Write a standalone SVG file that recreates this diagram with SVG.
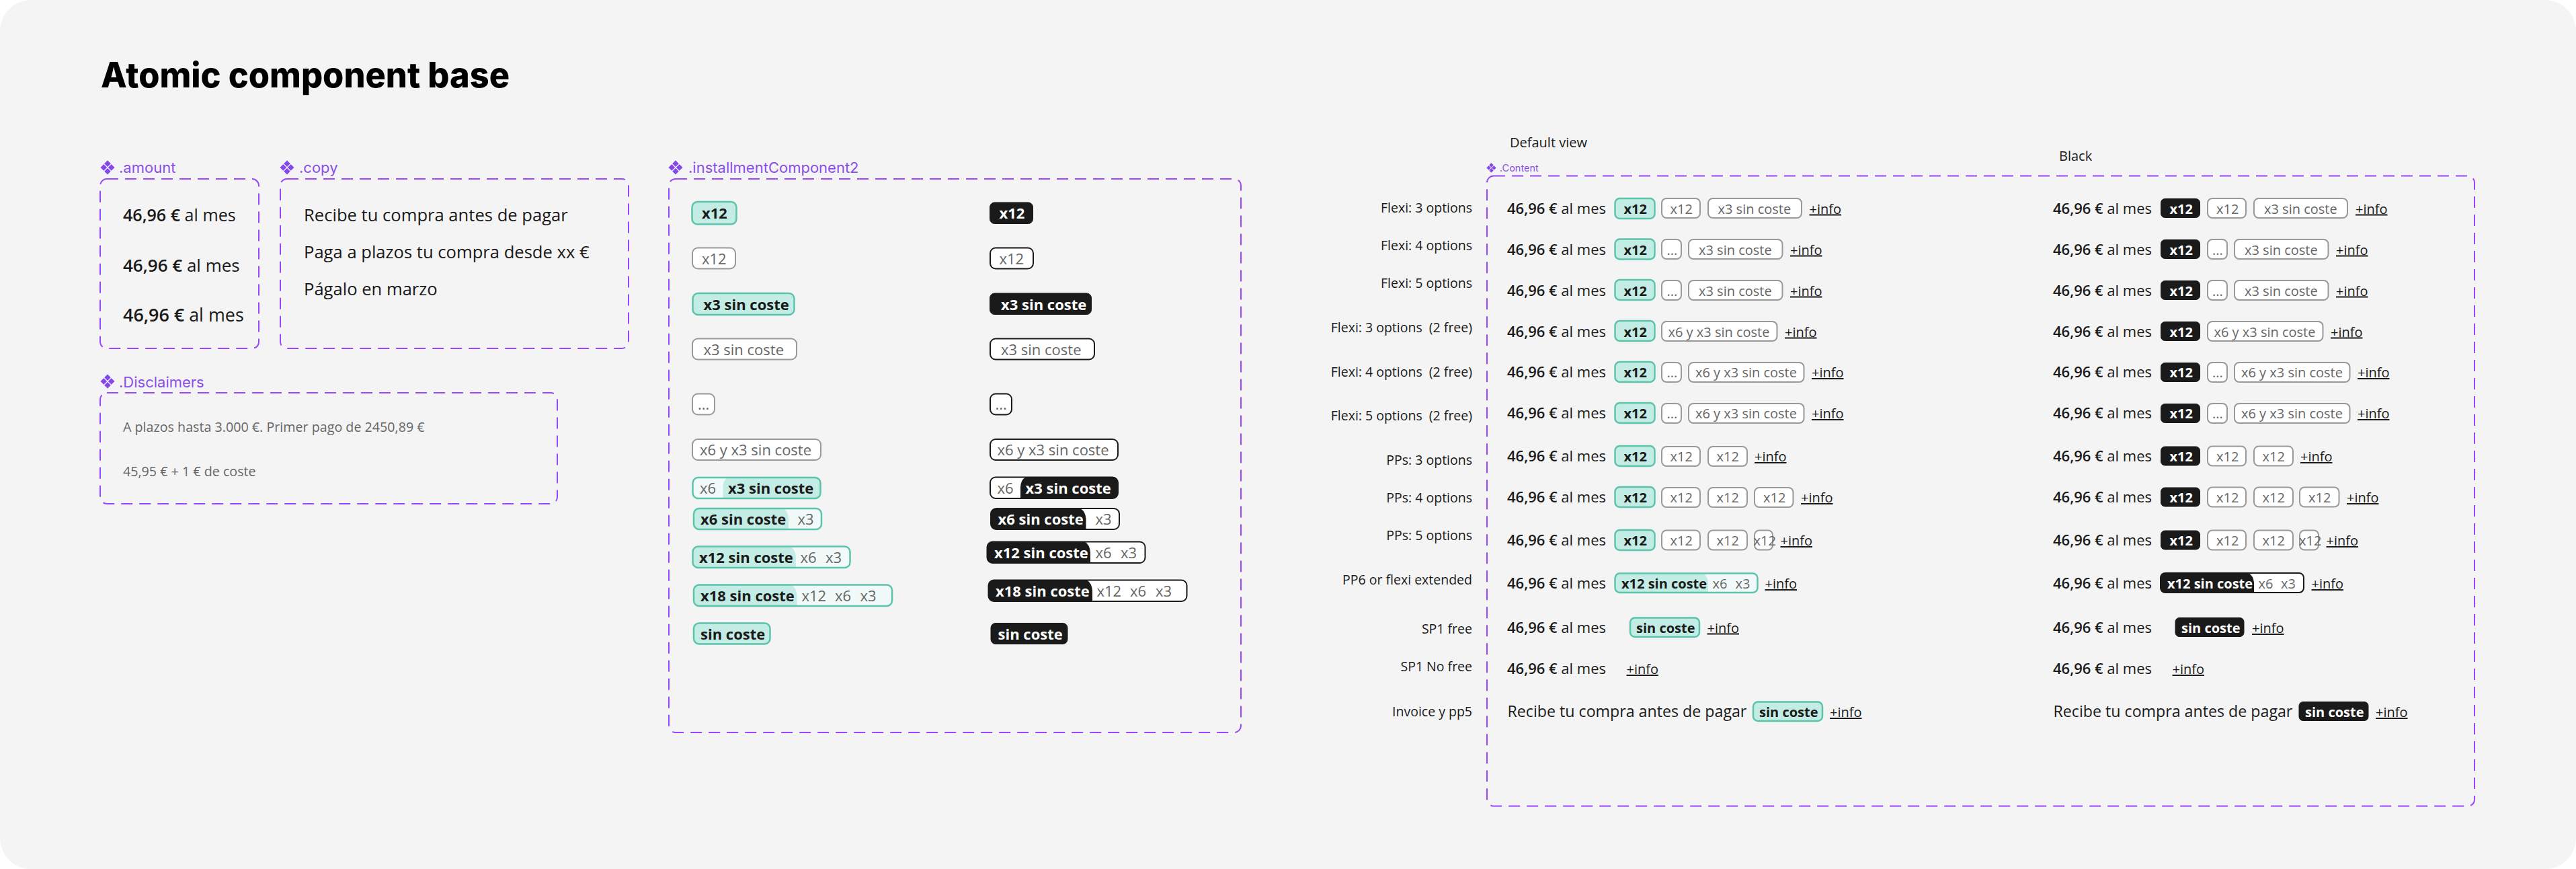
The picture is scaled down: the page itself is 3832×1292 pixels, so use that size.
<svg xmlns="http://www.w3.org/2000/svg" width="3832" height="1292" viewBox="0 0 3832 1292">
<style>
text{font-family:"Open Sans","Noto Sans",sans-serif;fill:#1a1a1a}
.title{font-family:Inter,"Liberation Sans",sans-serif;font-weight:800;font-size:52px;fill:#000}
.lbl{font-family:Inter,"Liberation Sans",sans-serif;font-size:22px;fill:#8a4fe8}
.lbls{font-family:Inter,"Liberation Sans",sans-serif;font-size:14.5px;fill:#8a4fe8}
.box{fill:none;stroke:#9747ff;stroke-width:2;stroke-dasharray:17 10}
.icon{fill:#8448ea}
.b{font-weight:700}
.a{font-size:22px}
.s{font-weight:600}
.c20{font-size:20px}
.c22{font-size:22px}
.g{fill:#666}
.w{fill:#fff}
.cap{font-size:19.500px;font-weight:500;text-anchor:end;white-space:pre}
.head{font-size:20px;font-weight:500}
.info{font-size:20px;text-decoration:underline}
.copy{font-size:25.600px;font-weight:500}
.inv{font-size:23.200px;font-weight:500}
.dis{font-size:19.700px;fill:#666}
.mint{fill:#c2ece4;stroke:#5cc4ab;stroke-width:2.5}
.blk{fill:#1a1a1a;stroke:#1a1a1a;stroke-width:1}
.out{fill:#fff;stroke:#999;stroke-width:2}
.outk{fill:#fff;stroke:#1a1a1a;stroke-width:2}
.ml{fill:#f1faf8}
.mf{fill:#c2ece4}
.kf{fill:#1a1a1a}
.ms{fill:none;stroke:#5cc4ab;stroke-width:2.500}
.ks{fill:none;stroke:#1a1a1a;stroke-width:2}
</style>
<defs>
<path id="dia" d="M0-10.500 4.800-5.700 0-.9-4.800-5.700ZM0 .9 4.800 5.700 0 10.500-4.800 5.700ZM-5.700-4.800-.9 0-5.700 4.800-10.500 0ZM5.700-4.800 10.500 0 5.700 4.800 .9 0Z"/>
</defs>
<rect id="frame" width="3832" height="1292" rx="46" fill="#f4f4f4"/>
<text id="title" class="title" x="150" y="130" textLength="608" lengthAdjust="spacingAndGlyphs">Atomic component base</text>

<g id="amount">
<use href="#dia" class="icon" x="160" y="249"/>
<text class="lbl" x="177" y="257">.amount</text>
<rect class="box" x="149" y="266" width="236" height="252" rx="10"/>
<text x="183" y="329" font-size="25.100"><tspan class="s">46,96 €</tspan> al mes</text>
<text x="183" y="404" font-size="26"><tspan class="s">46,96 €</tspan> al mes</text>
<text x="183" y="478" font-size="26.900"><tspan class="s">46,96 €</tspan> al mes</text>
</g>

<g id="copy">
<use href="#dia" class="icon" x="427" y="249"/>
<text class="lbl" x="445" y="257">.copy</text>
<rect class="box" x="417" y="266" width="518" height="252" rx="10"/>
<text class="copy" x="452" y="329">Recibe tu compra antes de pagar</text>
<text class="copy" x="452" y="384">Paga a plazos tu compra desde xx €</text>
<text class="copy" x="452" y="439">Págalo en marzo</text>
</g>

<g id="disclaimers">
<use href="#dia" class="icon" x="160" y="567"/>
<text class="lbl" x="177" y="576">.Disclaimers</text>
<rect class="box" x="149" y="584" width="680" height="165" rx="10"/>
<text class="dis" x="183" y="642">A plazos hasta 3.000 €. Primer pago de 2450,89 €</text>
<text class="dis" x="183" y="708">45,95 € + 1 € de coste</text>
</g>

<g id="installmentComponent2">
<use href="#dia" class="icon" x="1005" y="249"/>
<text class="lbl" x="1024" y="257">.installmentComponent2</text>
<rect class="box" x="995" y="266" width="851" height="823" rx="10"/>

<g id="ic-left">
<rect class="mint" x="1029.500" y="300" width="66" height="33.500" rx="8"/><text class="c22 b" x="1044" y="325">x12</text>
<rect class="out" x="1030" y="368.500" width="64" height="31" rx="8"/><text class="c22 g" x="1044" y="393">x12</text>
<rect class="mint" x="1030.500" y="436" width="151" height="32" rx="8"/><text class="c22 b" x="1046.500" y="461">x3 sin coste</text>
<rect class="out" x="1030" y="503.500" width="155" height="31" rx="8"/><text class="c22 g" x="1046.500" y="528">x3 sin coste</text>
<rect class="out" x="1030" y="585.500" width="33" height="31" rx="8"/><text class="c22 g" x="1038" y="609">...</text>
<rect class="out" x="1030" y="653" width="191" height="31" rx="8"/><text class="c22 g" x="1041" y="677">x6 y x3 sin coste</text>

<rect class="ml" x="1030" y="709.500" width="190.500" height="31.500" rx="8"/>
<path class="mf" d="M1075.500 741V724Q1075.500 713 1084 709.500H1212Q1220.500 709.500 1220.500 718V733Q1220.500 741 1212 741Z"/>
<rect class="ms" x="1030.500" y="710" width="190" height="31" rx="8"/>
<text class="c22 g" x="1041" y="734">x6</text><text class="c22 b" x="1083" y="734">x3 sin coste</text>

<rect class="ml" x="1032" y="756" width="190" height="31" rx="8"/>
<path class="mf" d="M1173 787V771Q1172 760 1165 756H1040Q1032 756 1032 764V779Q1032 787 1040 787Z"/>
<rect class="ms" x="1032" y="756" width="190" height="31" rx="8"/>
<text class="c22 b" x="1042" y="780">x6 sin coste</text><text class="c22 g" x="1186.500" y="780">x3</text>

<rect class="ml" x="1030.500" y="812.500" width="234" height="31.500" rx="8"/>
<path class="mf" d="M1184 844V828Q1183 817 1176 812.500H1038.500Q1030.500 812.500 1030.500 820.500V836Q1030.500 844 1038.500 844Z"/>
<rect class="ms" x="1030.500" y="812.500" width="234" height="31.500" rx="8"/>
<text class="c22 b" x="1040" y="837">x12 sin coste</text><text class="c22 g" x="1190.500" y="837">x6</text><text class="c22 g" x="1228" y="837">x3</text>

<rect class="ml" x="1032" y="869.500" width="295" height="31.500" rx="8"/>
<path class="mf" d="M1185.500 901V885Q1184.500 874 1177.500 869.500H1040Q1032 869.500 1032 877.500V893Q1032 901 1040 901Z"/>
<rect class="ms" x="1032" y="869.500" width="295" height="31.500" rx="8"/>
<text class="c22 b" x="1042" y="894">x18 sin coste</text><text class="c22 g" x="1192.500" y="894">x12</text><text class="c22 g" x="1242" y="894">x6</text><text class="c22 g" x="1279.500" y="894">x3</text>

<rect class="mint" x="1032" y="926.500" width="113.500" height="31" rx="8"/><text class="c22 b" x="1042" y="951">sin coste</text>
</g>

<g id="ic-right">
<rect class="blk" x="1472.500" y="301" width="64" height="31.500" rx="7"/><text class="c22 b w" x="1486.500" y="325">x12</text>
<rect class="outk" x="1473" y="368.500" width="64" height="31" rx="8"/><text class="c22 g" x="1486.500" y="393">x12</text>
<rect class="blk" x="1472.500" y="436" width="151" height="31.500" rx="7"/><text class="c22 b w" x="1489" y="461">x3 sin coste</text>
<rect class="outk" x="1473" y="503.500" width="155" height="31" rx="8"/><text class="c22 g" x="1489" y="528">x3 sin coste</text>
<rect class="outk" x="1473" y="585.500" width="32" height="31" rx="8"/><text class="c22 g" x="1480.500" y="609">...</text>
<rect class="outk" x="1473" y="653" width="190" height="31" rx="8"/><text class="c22 g" x="1483.500" y="677">x6 y x3 sin coste</text>

<rect fill="#fff" x="1473" y="709.500" width="190" height="31.500" rx="8"/>
<path class="kf" d="M1518 741V724Q1518.500 713 1526 709.500H1655Q1663 709.500 1663 718V733Q1663 741 1655 741Z"/>
<rect class="ks" x="1473" y="709.500" width="190" height="31.500" rx="8"/>
<text class="c22 g" x="1483.500" y="734">x6</text><text class="c22 b w" x="1525.500" y="734">x3 sin coste</text>

<rect fill="#fff" x="1474" y="756" width="191" height="31" rx="8"/>
<path class="kf" d="M1615.500 787V771Q1614.500 760 1607 756H1482Q1474 756 1474 764V779Q1474 787 1482 787Z"/>
<rect class="ks" x="1474" y="756" width="191" height="31" rx="8"/>
<text class="c22 b w" x="1484.500" y="780">x6 sin coste</text><text class="c22 g" x="1629.500" y="780">x3</text>

<rect fill="#fff" x="1468.500" y="805.500" width="235" height="31.500" rx="8"/>
<path class="kf" d="M1622 837V821Q1621 810 1614 805.500H1476.500Q1468.500 805.500 1468.500 813.500V829Q1468.500 837 1476.500 837Z"/>
<rect class="ks" x="1468.500" y="805.500" width="235" height="31.500" rx="8"/>
<text class="c22 b w" x="1479" y="830">x12 sin coste</text><text class="c22 g" x="1629.500" y="830">x6</text><text class="c22 g" x="1667" y="830">x3</text>

<rect fill="#fff" x="1470.500" y="862.500" width="295" height="31.500" rx="8"/>
<path class="kf" d="M1625 894V878Q1624 867 1617 862.500H1478.500Q1470.500 862.500 1470.500 870.500V886Q1470.500 894 1478.500 894Z"/>
<rect class="ks" x="1470.500" y="862.500" width="295" height="31.500" rx="8"/>
<text class="c22 b w" x="1481" y="887">x18 sin coste</text><text class="c22 g" x="1631.500" y="887">x12</text><text class="c22 g" x="1681" y="887">x6</text><text class="c22 g" x="1719" y="887">x3</text>

<rect class="blk" x="1474" y="926.500" width="114" height="31" rx="7"/><text class="c22 b w" x="1484.500" y="951">sin coste</text>
</g>
</g>

<g id="captions">
<text class="head" x="2246" y="219">Default view</text>
<text class="head" x="3063" y="239">Black</text>
<text class="cap" x="2190" y="316">Flexi: 3 options</text>
<text class="cap" x="2190" y="372">Flexi: 4 options</text>
<text class="cap" x="2190" y="428">Flexi: 5 options</text>
<text class="cap" x="2190" y="494">Flexi: 3 options  (2 free)</text>
<text class="cap" x="2190" y="560">Flexi: 4 options  (2 free)</text>
<text class="cap" x="2190" y="625">Flexi: 5 options  (2 free)</text>
<text class="cap" x="2190" y="691">PPs: 3 options</text>
<text class="cap" x="2190" y="747">PPs: 4 options</text>
<text class="cap" x="2190" y="803">PPs: 5 options</text>
<text class="cap" x="2190" y="869">PP6 or flexi extended</text>
<text class="cap" x="2190" y="942">SP1 free</text>
<text class="cap" x="2190" y="998">SP1 No free</text>
<text class="cap" x="2190" y="1065">Invoice y pp5</text>
</g>

<g id="content">
<use href="#dia" transform="translate(2218.500 249.500) scale(.68)" class="icon"/>
<text class="lbls" x="2231" y="255">.Content</text>
<rect class="box" x="2212" y="261.500" width="1469" height="937" rx="10"/>

<g id="default-rows">
<g id="d1"><text class="a" x="2242" y="318"><tspan class="s">46,96 €</tspan> al mes</text><rect class="mint" x="2402.500" y="295" width="59" height="30" rx="7"/><text class="c20 b" x="2415.500" y="318">x12</text><rect class="out" x="2472" y="295" width="57" height="29" rx="7"/><text class="c20 g" x="2484.500" y="318">x12</text><rect class="out" x="2541" y="295" width="139" height="29" rx="7"/><text class="c20 g" x="2555.500" y="318">x3 sin coste</text><text class="info" x="2691.500" y="317.500">+info</text></g>
<g id="d2"><text class="a" x="2242" y="379"><tspan class="s">46,96 €</tspan> al mes</text><rect class="mint" x="2402.500" y="355.500" width="59" height="30" rx="7"/><text class="c20 b" x="2415.500" y="378.500">x12</text><rect class="out" x="2472" y="356" width="29" height="29" rx="7"/><text class="c20 g" x="2479.500" y="378.500">...</text><rect class="out" x="2512" y="356" width="139.500" height="29" rx="7"/><text class="c20 g" x="2527" y="378.500">x3 sin coste</text><text class="info" x="2663" y="378.500">+info</text></g>
<g id="d3"><text class="a" x="2242" y="439.500"><tspan class="s">46,96 €</tspan> al mes</text><rect class="mint" x="2402.500" y="416" width="59" height="30" rx="7"/><text class="c20 b" x="2415.500" y="439.500">x12</text><rect class="out" x="2472" y="417" width="29" height="29" rx="7"/><text class="c20 g" x="2479.500" y="439.500">...</text><rect class="out" x="2512" y="417" width="139.500" height="29" rx="7"/><text class="c20 g" x="2527" y="439.500">x3 sin coste</text><text class="info" x="2663" y="439.500">+info</text></g>
<g id="d4"><text class="a" x="2242" y="500.500"><tspan class="s">46,96 €</tspan> al mes</text><rect class="mint" x="2402.500" y="477" width="59" height="30" rx="7"/><text class="c20 b" x="2415.500" y="500.500">x12</text><rect class="out" x="2472" y="478" width="171.500" height="29" rx="7"/><text class="c20 g" x="2481.500" y="500.500">x6 y x3 sin coste</text><text class="info" x="2655" y="500.500">+info</text></g>
<g id="d5"><text class="a" x="2242" y="561"><tspan class="s">46,96 €</tspan> al mes</text><rect class="mint" x="2402.500" y="538" width="59" height="30" rx="7"/><text class="c20 b" x="2415.500" y="561">x12</text><rect class="out" x="2472" y="539" width="29" height="29" rx="7"/><text class="c20 g" x="2479.500" y="561">...</text><rect class="out" x="2512" y="539" width="171.500" height="29" rx="7"/><text class="c20 g" x="2522" y="561">x6 y x3 sin coste</text><text class="info" x="2695" y="561">+info</text></g>
<g id="d6"><text class="a" x="2242" y="622"><tspan class="s">46,96 €</tspan> al mes</text><rect class="mint" x="2402.500" y="599" width="59" height="30" rx="7"/><text class="c20 b" x="2415.500" y="622">x12</text><rect class="out" x="2472" y="600" width="29" height="29" rx="7"/><text class="c20 g" x="2479.500" y="622">...</text><rect class="out" x="2512" y="600" width="171.500" height="29" rx="7"/><text class="c20 g" x="2522" y="622">x6 y x3 sin coste</text><text class="info" x="2695" y="622">+info</text></g>
<g id="d7"><text class="a" x="2242" y="686"><tspan class="s">46,96 €</tspan> al mes</text><rect class="mint" x="2402.500" y="663" width="59" height="30" rx="7"/><text class="c20 b" x="2415.500" y="686">x12</text><rect class="out" x="2472" y="664" width="57" height="29" rx="7"/><text class="c20 g" x="2484.500" y="686">x12</text><rect class="out" x="2541" y="664" width="58" height="29" rx="7"/><text class="c20 g" x="2553.500" y="686">x12</text><text class="info" x="2610" y="686">+info</text></g>
<g id="d8"><text class="a" x="2242" y="747"><tspan class="s">46,96 €</tspan> al mes</text><rect class="mint" x="2402.500" y="724" width="59" height="30" rx="7"/><text class="c20 b" x="2415.500" y="747">x12</text><rect class="out" x="2472" y="725" width="57" height="29" rx="7"/><text class="c20 g" x="2484.500" y="747">x12</text><rect class="out" x="2541" y="725" width="58" height="29" rx="7"/><text class="c20 g" x="2553.500" y="747">x12</text><rect class="out" x="2610" y="725" width="57.500" height="29" rx="7"/><text class="c20 g" x="2623" y="747">x12</text><text class="info" x="2679" y="747">+info</text></g>
<g id="d9"><text class="a" x="2242" y="811"><tspan class="s">46,96 €</tspan> al mes</text><rect class="mint" x="2402.500" y="788" width="59" height="30" rx="7"/><text class="c20 b" x="2415.500" y="811">x12</text><rect class="out" x="2472" y="788.500" width="57" height="29" rx="7"/><text class="c20 g" x="2484.500" y="811">x12</text><rect class="out" x="2541" y="788.500" width="58" height="29" rx="7"/><text class="c20 g" x="2553.500" y="811">x12</text><rect class="out" x="2610" y="788.500" width="27" height="29" rx="7"/><text class="c20 g" x="2608.500" y="811">x12</text><text class="info" x="2648.500" y="811">+info</text></g>
<g id="d10"><text class="a" x="2242" y="875"><tspan class="s">46,96 €</tspan> al mes</text><rect class="ml" x="2402.500" y="852.500" width="212" height="28.500" rx="7"/><path class="mf" d="M2541 881V866Q2540 856 2533 852.500H2409.500Q2402.500 852.500 2402.500 859.500V874Q2402.500 881 2409.500 881Z"/><rect class="ms" x="2402.500" y="852.500" width="212" height="28.500" rx="7"/><text class="c20 b" x="2412" y="875">x12 sin coste</text><text class="c20 g" x="2547.500" y="875">x6</text><text class="c20 g" x="2581.500" y="875">x3</text><text class="info" x="2625.500" y="875">+info</text></g>
<g id="d11"><text class="a" x="2242" y="940.500"><tspan class="s">46,96 €</tspan> al mes</text><rect class="mint" x="2425" y="918.500" width="103" height="28.500" rx="7"/><text class="c20 b" x="2434" y="940.500">sin coste</text><text class="info" x="2539.500" y="940.500">+info</text></g>
<g id="d12"><text class="a" x="2242" y="1002"><tspan class="s">46,96 €</tspan> al mes</text><text class="info" x="2419.500" y="1002">+info</text></g>
<g id="d13"><text class="inv" x="2242.500" y="1066">Recibe tu compra antes de pagar</text><rect class="mint" x="2608" y="1043.500" width="103" height="28.500" rx="7"/><text class="c20 b" x="2617" y="1066">sin coste</text><text class="info" x="2722" y="1066">+info</text></g>
</g>

<g id="black-rows">
<g id="k1"><text class="a" x="3054" y="318"><tspan class="s">46,96 €</tspan> al mes</text><rect class="blk" x="3214.500" y="295.500" width="58" height="28" rx="6"/><text class="c20 b w" x="3227.500" y="318">x12</text><rect class="out" x="3284" y="295" width="57" height="29" rx="7"/><text class="c20 g" x="3297" y="318">x12</text><rect class="out" x="3353" y="295" width="139" height="29" rx="7"/><text class="c20 g" x="3368" y="318">x3 sin coste</text><text class="info" x="3504" y="317.500">+info</text></g>
<g id="k2"><text class="a" x="3054" y="379"><tspan class="s">46,96 €</tspan> al mes</text><rect class="blk" x="3214.500" y="356.500" width="58" height="28" rx="6"/><text class="c20 b w" x="3227.500" y="378.500">x12</text><rect class="out" x="3284" y="356" width="29" height="29" rx="7"/><text class="c20 g" x="3291" y="378.500">...</text><rect class="out" x="3324" y="356" width="139.500" height="29" rx="7"/><text class="c20 g" x="3339" y="378.500">x3 sin coste</text><text class="info" x="3475" y="378.500">+info</text></g>
<g id="k3"><text class="a" x="3054" y="439.500"><tspan class="s">46,96 €</tspan> al mes</text><rect class="blk" x="3214.500" y="417.500" width="58" height="28" rx="6"/><text class="c20 b w" x="3227.500" y="439.500">x12</text><rect class="out" x="3284" y="417" width="29" height="29" rx="7"/><text class="c20 g" x="3291" y="439.500">...</text><rect class="out" x="3324" y="417" width="139.500" height="29" rx="7"/><text class="c20 g" x="3339" y="439.500">x3 sin coste</text><text class="info" x="3475" y="439.500">+info</text></g>
<g id="k4"><text class="a" x="3054" y="500.500"><tspan class="s">46,96 €</tspan> al mes</text><rect class="blk" x="3214.500" y="478.500" width="58" height="28" rx="6"/><text class="c20 b w" x="3227.500" y="500.500">x12</text><rect class="out" x="3284" y="478" width="171.500" height="29" rx="7"/><text class="c20 g" x="3293.500" y="500.500">x6 y x3 sin coste</text><text class="info" x="3467" y="500.500">+info</text></g>
<g id="k5"><text class="a" x="3054" y="561"><tspan class="s">46,96 €</tspan> al mes</text><rect class="blk" x="3214.500" y="539.500" width="58" height="28" rx="6"/><text class="c20 b w" x="3227.500" y="561">x12</text><rect class="out" x="3284" y="539" width="29" height="29" rx="7"/><text class="c20 g" x="3291" y="561">...</text><rect class="out" x="3324" y="539" width="171.500" height="29" rx="7"/><text class="c20 g" x="3334" y="561">x6 y x3 sin coste</text><text class="info" x="3507" y="561">+info</text></g>
<g id="k6"><text class="a" x="3054" y="622"><tspan class="s">46,96 €</tspan> al mes</text><rect class="blk" x="3214.500" y="600.500" width="58" height="28" rx="6"/><text class="c20 b w" x="3227.500" y="622">x12</text><rect class="out" x="3284" y="600" width="29" height="29" rx="7"/><text class="c20 g" x="3291" y="622">...</text><rect class="out" x="3324" y="600" width="171.500" height="29" rx="7"/><text class="c20 g" x="3334" y="622">x6 y x3 sin coste</text><text class="info" x="3507" y="622">+info</text></g>
<g id="k7"><text class="a" x="3054" y="686"><tspan class="s">46,96 €</tspan> al mes</text><rect class="blk" x="3214.500" y="664" width="58" height="28" rx="6"/><text class="c20 b w" x="3227.500" y="686">x12</text><rect class="out" x="3284" y="663.500" width="57" height="29" rx="7"/><text class="c20 g" x="3297" y="686">x12</text><rect class="out" x="3353" y="663.500" width="58" height="29" rx="7"/><text class="c20 g" x="3365.500" y="686">x12</text><text class="info" x="3422" y="686">+info</text></g>
<g id="k8"><text class="a" x="3054" y="747"><tspan class="s">46,96 €</tspan> al mes</text><rect class="blk" x="3214.500" y="725" width="58" height="28" rx="6"/><text class="c20 b w" x="3227.500" y="747">x12</text><rect class="out" x="3284" y="724.500" width="57" height="29" rx="7"/><text class="c20 g" x="3297" y="747">x12</text><rect class="out" x="3353" y="724.500" width="58" height="29" rx="7"/><text class="c20 g" x="3365.500" y="747">x12</text><rect class="out" x="3421" y="724.500" width="58.500" height="29" rx="7"/><text class="c20 g" x="3434" y="747">x12</text><text class="info" x="3491" y="747">+info</text></g>
<g id="k9"><text class="a" x="3054" y="811"><tspan class="s">46,96 €</tspan> al mes</text><rect class="blk" x="3214.500" y="789" width="58" height="28" rx="6"/><text class="c20 b w" x="3227.500" y="811">x12</text><rect class="out" x="3284" y="788.500" width="57" height="29" rx="7"/><text class="c20 g" x="3297" y="811">x12</text><rect class="out" x="3353" y="788.500" width="58" height="29" rx="7"/><text class="c20 g" x="3365.500" y="811">x12</text><rect class="out" x="3421" y="788.500" width="28" height="29" rx="7"/><text class="c20 g" x="3420" y="811">x12</text><text class="info" x="3460.500" y="811">+info</text></g>
<g id="k10"><text class="a" x="3054" y="875"><tspan class="s">46,96 €</tspan> al mes</text><rect fill="#fff" x="3214" y="852" width="213" height="29" rx="7"/><path class="kf" d="M3353 881V866Q3352 856 3345 852H3221Q3214 852 3214 859V874Q3214 881 3221 881Z"/><rect class="ks" x="3214" y="852" width="213" height="29" rx="7"/><text class="c20 b w" x="3224" y="875">x12 sin coste</text><text class="c20 g" x="3359.500" y="875">x6</text><text class="c20 g" x="3393" y="875">x3</text><text class="info" x="3438.500" y="875">+info</text></g>
<g id="k11"><text class="a" x="3054" y="941"><tspan class="s">46,96 €</tspan> al mes</text><rect class="blk" x="3236" y="918.500" width="102" height="28" rx="6"/><text class="c20 b w" x="3245" y="941">sin coste</text><text class="info" x="3350" y="941">+info</text></g>
<g id="k12"><text class="a" x="3054" y="1002"><tspan class="s">46,96 €</tspan> al mes</text><text class="info" x="3231.500" y="1002">+info</text></g>
<g id="k13"><text class="inv" x="3054.500" y="1066">Recibe tu compra antes de pagar</text><rect class="blk" x="3420" y="1043.500" width="103" height="28" rx="6"/><text class="c20 b w" x="3429" y="1066">sin coste</text><text class="info" x="3534" y="1066">+info</text></g>
</g>
</g>
</svg>
